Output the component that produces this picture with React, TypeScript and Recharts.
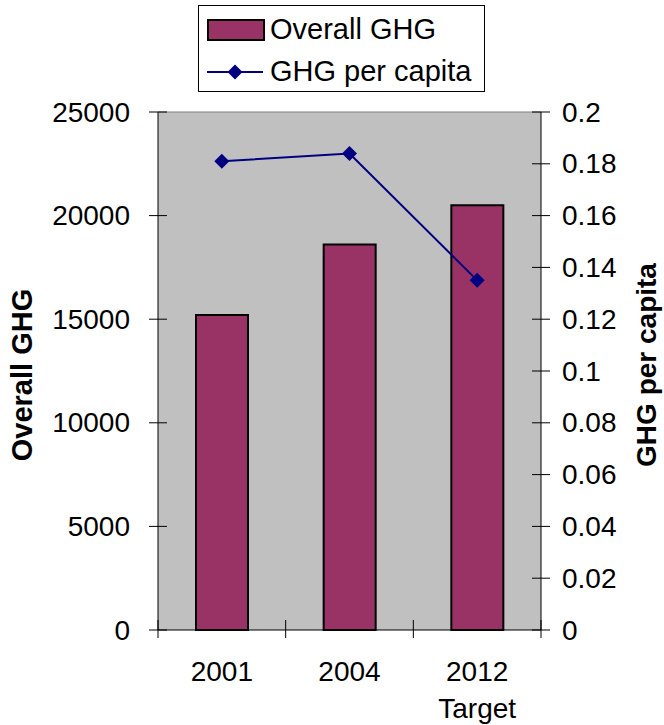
import {
  ComposedChart,
  Bar,
  Line,
  XAxis,
  YAxis,
  CartesianGrid,
  ReferenceLine,
} from "recharts";

const years = ["2001", "2004", "2012 Target"];
const overallGhg = [15200, 18600, 20500];
const ghgPerCapita = [0.181, 0.184, 0.135];
const leftTicks = [0, 5000, 10000, 15000, 20000, 25000];
const rightTicks = [0, 0.02, 0.04, 0.06, 0.08, 0.1, 0.12, 0.14, 0.16, 0.18, 0.2];
const seriesNames = ["Overall GHG", "GHG per capita"];

const data = years.map((year, i) => ({
  year,
  overall: overallGhg[i],
  perCapita: ghgPerCapita[i],
}));

const FONT = "'Liberation Sans', Arial, sans-serif";
const BAR_COLOR = "#993366";
const LINE_COLOR = "#000080";
const PLOT_LEFT = 158;
const PLOT_RIGHT = 541;
const BAND = (PLOT_RIGHT - PLOT_LEFT) / years.length;
const TICK_FONT = 28;

const LeftTick = ({ x, y, payload }: any) => (
  <g>
    <line x1={x - 9} x2={x + 9} y1={y} y2={y} stroke="#000" />
    <text x={x - 28} y={y} textAnchor="end" dominantBaseline="central" fontSize={TICK_FONT} fontFamily={FONT} fill="#000">
      {payload.value}
    </text>
  </g>
);

const RightTick = ({ x, y, payload }: any) => (
  <g>
    <line x1={x - 9} x2={x + 9} y1={y} y2={y} stroke="#000" />
    <text x={x + 21} y={y} textAnchor="start" dominantBaseline="central" fontSize={TICK_FONT} fontFamily={FONT} fill="#000">
      {payload.value}
    </text>
  </g>
);

const BottomTick = ({ x, y, payload, index }: any) => {
  const lines = String(payload.value).split(" ");
  return (
    <g>
      <line x1={x - BAND / 2} x2={x - BAND / 2} y1={y - 10} y2={y + 8} stroke="#000" />
      {index === years.length - 1 && (
        <line x1={x + BAND / 2} x2={x + BAND / 2} y1={y - 10} y2={y + 8} stroke="#000" />
      )}
      {lines.map((t, i) => (
        <text key={i} x={x} y={y + 51 + i * 37} textAnchor="middle" fontSize={TICK_FONT} fontFamily={FONT} fill="#000">
          {t}
        </text>
      ))}
    </g>
  );
};

const Diamond = ({ cx, cy, index }: any) => (
  <path
    key={index}
    d={`M${cx},${cy - 7.5} L${cx + 7.5},${cy} L${cx},${cy + 7.5} L${cx - 7.5},${cy} Z`}
    fill={LINE_COLOR}
  />
);

const AxisTitle = ({ x, y, text, size }: { x: number; y: number; text: string; size: number }) => (
  <text
    x={x}
    y={y}
    transform={`rotate(-90 ${x} ${y})`}
    textAnchor="middle"
    dominantBaseline="central"
    fontSize={size}
    fontWeight="bold"
    fontFamily={FONT}
    fill="#000"
  >
    {text}
  </text>
);

export default function App() {
  return (
    <div style={{ position: "absolute", left: 0, top: 0, width: 664, height: 725, background: "#fff" }}>
      <ComposedChart width={664} height={725} data={data} margin={{ top: 112, right: 0, bottom: 0, left: 0 }}>
        <CartesianGrid yAxisId="left" horizontal={false} vertical={false} fill="#C0C0C0" />
        <ReferenceLine yAxisId="left" y={25000} stroke="#808080" />
        <XAxis
          dataKey="year"
          height={95}
          tickSize={0}
          tickMargin={0}
          tickLine={false}
          stroke="#000"
          interval={0}
          tick={<BottomTick />}
        />
        <YAxis
          yAxisId="left"
          width={PLOT_LEFT}
          domain={[0, 25000]}
          ticks={leftTicks}
          tickSize={0}
          tickMargin={0}
          tickLine={false}
          stroke="#000"
          tick={<LeftTick />}
          label={{ content: () => <AxisTitle x={22} y={375} text={seriesNames[0]} size={29} /> }}
        />
        <YAxis
          yAxisId="right"
          orientation="right"
          width={664 - PLOT_RIGHT}
          domain={[0, 0.2]}
          ticks={rightTicks}
          tickSize={0}
          tickMargin={0}
          tickLine={false}
          stroke="#000"
          tick={<RightTick />}
          label={{ content: () => <AxisTitle x={646} y={365} text={seriesNames[1]} size={28} /> }}
        />
        <Bar
          yAxisId="left"
          dataKey="overall"
          name={seriesNames[0]}
          fill={BAR_COLOR}
          stroke="#000"
          strokeWidth={2}
          barSize={52}
          isAnimationActive={false}
        />
        <Line
          yAxisId="right"
          dataKey="perCapita"
          name={seriesNames[1]}
          stroke={LINE_COLOR}
          strokeWidth={2}
          dot={Diamond}
          activeDot={false}
          isAnimationActive={false}
        />
      </ComposedChart>

      {/* legend box */}
      <div
        style={{
          position: "absolute",
          left: 198,
          top: 5,
          width: 287,
          height: 87,
          border: "1px solid #000",
          boxSizing: "border-box",
          background: "#fff",
        }}
      >
        <svg width={285} height={85} style={{ display: "block" }}>
          <rect x={9} y={14} width={56} height={20} fill={BAR_COLOR} stroke="#000" strokeWidth={2} />
          <text x={71} y={33} fontSize={29} fontFamily={FONT} fill="#000">
            {seriesNames[0]}
          </text>
          <line x1={8} x2={64} y1={66} y2={66} stroke={LINE_COLOR} strokeWidth={2} />
          <path d="M36,58.5 L43.5,66 L36,73.5 L28.5,66 Z" fill={LINE_COLOR} />
          <text x={71} y={75} fontSize={29} fontFamily={FONT} fill="#000">
            {seriesNames[1]}
          </text>
        </svg>
      </div>
    </div>
  );
}
